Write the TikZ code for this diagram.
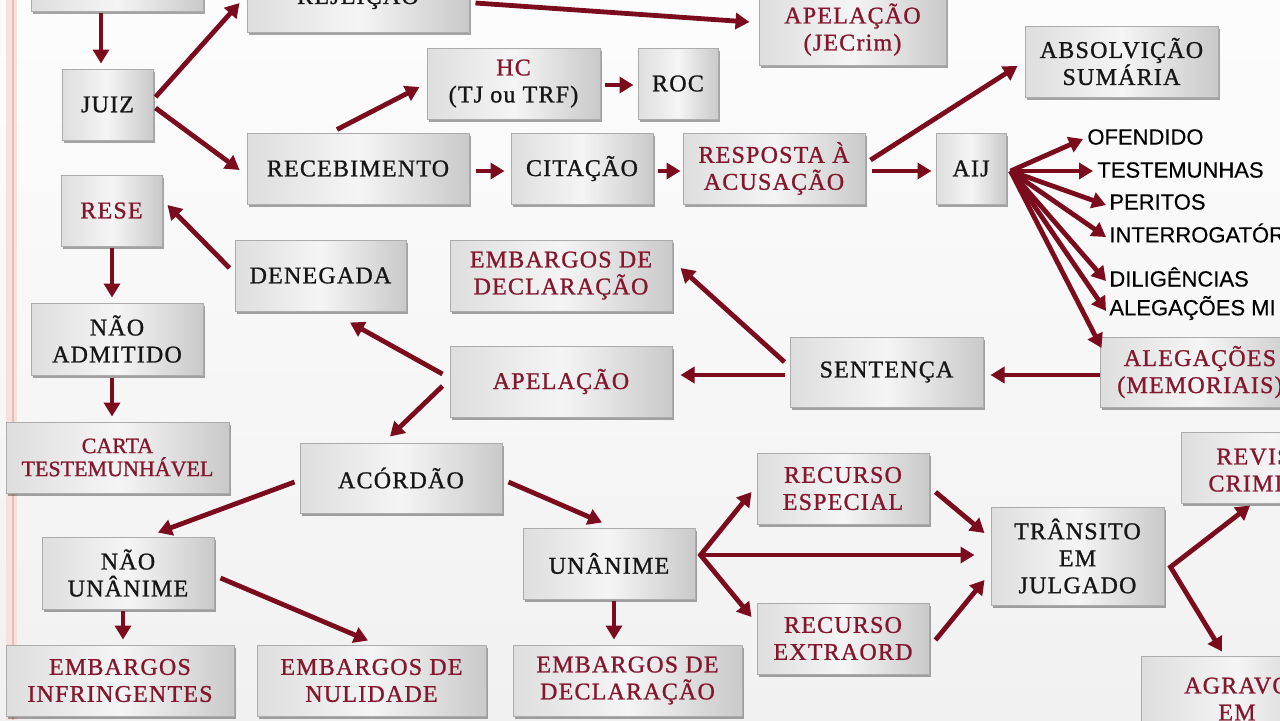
\documentclass[tikz,border=0pt]{standalone}
\usepackage{fontspec}
\setmainfont{Liberation Serif}[LetterSpace=5,FakeBold=1]
\newfontfamily\sansf{Liberation Sans}[FakeBold=0.4]
\newfontfamily\plainserif{Liberation Serif}[FakeBold=1]
\usetikzlibrary{arrows.meta,shadows,calc}
\definecolor{txtred}{RGB}{132,22,46}
\definecolor{txtblk}{RGB}{22,22,22}
\definecolor{arrred}{RGB}{122,12,30}
\definecolor{pinkband}{RGB}{246,226,220}
\definecolor{pinkline}{RGB}{234,190,178}
\begin{document}
\begin{tikzpicture}[x=0.5pt,y=-0.5pt,
  box/.style={rectangle, draw=gray!65, line width=0.5pt,
    left color=gray!26, right color=gray!42, middle color=gray!8,
    drop shadow={shadow xshift=1pt, shadow yshift=-1.3pt, opacity=0.35, fill=black},
    align=center, inner sep=0pt, text=txtblk,
    font=\fontsize{12}{13.5}\selectfont},
  rbox/.style={box, text=txtred},
  rtext/.style={align=center, inner sep=0pt, text=txtred, font=\fontsize{12}{13.5}\selectfont},
  sz/.style 2 args={minimum width=#1*0.5pt, minimum height=#2*0.5pt},
  item/.style={anchor=west, inner sep=0pt, text=black, font=\sansf\fontsize{11}{13}\selectfont},
  arr/.style={draw=arrred, line width=2.4pt, -{Triangle[length=7pt,width=8pt]}},
  arr2/.style={draw=arrred, line width=2.4pt, {Triangle[length=7pt,width=8pt]}-{Triangle[length=7pt,width=8pt]}}
]
\useasboundingbox (0,0) rectangle (1280,720);
\fill[top color=gray!2, bottom color=gray!11] (0,0) rectangle (1280,720);
\fill[pinkband] (6,0) rectangle (17,720);
\draw[pinkline, line width=1pt] (13,0) -- (13,720);

% boxes
\node[box,sz={172}{51}] (top) at (117,-14.5) {};
\node[box,sz={222}{72}] (rej) at (358,-3.5) {REJEIÇÃO};
\node[rbox,sz={187}{71}] (jec) at (852.5,29.5) {APELAÇÃO\\(JECrim)};
\node[box,sz={173}{71}] (hc) at (513.5,83.5) {\textcolor{txtred}{HC}\\(TJ ou TRF)};
\node[box,sz={80}{71}] (roc) at (678,83.5) {ROC};
\node[box,sz={193}{71}] (abs) at (1121.5,61.5) {ABSOLVIÇÃO\\SUMÁRIA};
\node[box,sz={91}{71}] (juiz) at (107.5,104.5) {JUIZ};
\node[box,sz={222}{71}] (rec) at (358,168.5) {RECEBIMENTO};
\node[box,sz={142}{71}] (cit) at (582,168.5) {CITAÇÃO};
\node[rbox,sz={182}{71}] (resp) at (774,168.5) {RESPOSTA À\\ACUSAÇÃO};
\node[box,sz={70}{71}] (aij) at (971,168.5) {AIJ};
\node[rbox,sz={101}{71}] (rese) at (111.5,210.5) {RESE};
\node[box,sz={171}{71}] (den) at (320.5,275.5) {DENEGADA};
\node[rbox,sz={222}{71}] (emb1) at (561,275.5) {EMBARGOS DE\\DECLARAÇÃO};
\node[box,sz={172}{72}] (nadm) at (117,339) {NÃO\\ADMITIDO};
\node[rbox,sz={222}{71}] (apel) at (561,381.5) {APELAÇÃO};
\node[box,sz={193}{70}] (sent) at (886.5,372) {SENTENÇA};
\node[rbox,sz={200}{70}] (aleg) at (1200,372) {ALEGAÇÕES\\(MEMORIAIS)};
\node[rbox,sz={223}{71},font=\plainserif\fontsize{11}{11.5}\selectfont] (carta) at (117.5,457.5) {CARTA\\TESTEMUNHÁVEL};
\node[box,sz={202}{70}] (acor) at (401,478) {ACÓRDÃO};
\node[rbox,sz={182}{71}] (rev) at (1272,468) {REVISÃO\\CRIMINAL};
\node[rbox,sz={172}{71}] (resE) at (843,488.5) {RECURSO\\ESPECIAL};
\node[box,sz={173}{98}] (trans) at (1077.5,556) {TRÂNSITO\\EM\\JULGADO};
\node[box,sz={172}{72}] (nun) at (128,573) {NÃO\\UNÂNIME};
\node[box,sz={172}{71}] (un) at (609,563.5) {UNÂNIME};
\node[rbox,sz={172}{71}] (rext) at (843,638.5) {RECURSO\\EXTRAORD};
\node[rbox,sz={228}{71}] (einf) at (120,680.5) {EMBARGOS\\INFRINGENTES};
\node[rbox,sz={229}{71}] (enul) at (371.5,680.5) {EMBARGOS DE\\NULIDADE};
\node[rbox,sz={229}{71}] (edec) at (627.5,680.5) {EMBARGOS DE\\DECLARAÇÃO};
\node[box,sz={192}{103}] (agr) at (1237,708) {};
\node[rtext] (agrt) at (1237,699) {AGRAVO\\EM};

% sans labels
\node[item] (ofe) at (1087,137) {OFENDIDO};
\node[item] (tes) at (1097,170) {TESTEMUNHAS};
\node[item] (per) at (1109,202) {PERITOS};
\node[item] (int) at (1109,233) {INTERROGATÓRIO};
\node[item] (dil) at (1109,277) {DILIGÊNCIAS};
\node[item] (alm) at (1109,308) {ALEGAÇÕES MI};

% arrows
\draw[arr] ($(top.south)+(-16,1)$) -- ($(juiz.north)+(-6.5,-5)$);
\draw[arr] ($(juiz.east)+(2,-7.5)$) -- ($(rej.west)+(-7,6.5)$);
\draw[arr] ($(juiz.east)+(2,3.5)$) -- ($(rec.west)+(-7,1.5)$);
\draw[arr] ($(rej.east)+(6,6.5)$) -- ($(jec.west)+(-9,-7.5)$);
\draw[arr] ($(rec.north)+(-21,-3)$) -- ($(hc.west)+(-7,3.5)$);
\draw[arr] ($(hc.east)+(4,1.5)$) -- ($(roc.west)+(-4,1.5)$);
\draw[arr] ($(rec.east)+(6,2.5)$) -- ($(cit.west)+(-6,2.5)$);
\draw[arr] ($(cit.east)+(4,2.5)$) -- ($(resp.west)+(-2,2.5)$);
\draw[arr] ($(resp.east)+(5,-8.5)$) -- ($(abs.west)+(-7,4.5)$);
\draw[arr] ($(resp.east)+(6,2.5)$) -- ($(aij.west)+(-4,2.5)$);
\coordinate (fan) at ($(aij.east)+(4,2.5)$);
\draw[arr] (fan) -- ($(ofe.west)+(-4,2)$);
\draw[arr] (fan) -- ($(tes.west)+(-4,1)$);
\draw[arr] (fan) -- ($(per.west)+(-3,3)$);
\draw[arr] (fan) -- ($(int.west)+(-3,4)$);
\draw[arr] (fan) -- ($(dil.west)+(-3,4)$);
\draw[arr] (fan) -- ($(alm.west)+(-3,3)$);
\draw[arr] (fan) -- ($(aleg.west)+(2,-24)$);
\draw[arr] ($(aleg.west)+(0,3)$) -- ($(sent.east)+(7,3)$);
\draw[arr] ($(sent.west)+(-5,-10)$) -- ($(emb1.east)+(8,-7.5)$);
\draw[arr] ($(sent.west)+(-5,3)$) -- ($(apel.east)+(8,-6.5)$);
\draw[arr] ($(apel.west)+(-7,-7.5)$) -- ($(den.south)+(29.5,11)$);
\draw[arr] ($(apel.west)+(-7,4.5)$) -- ($(acor.north)+(-11,-6)$);
\draw[arr] ($(den.west)+(-5,-7.5)$) -- ($(rese.east)+(5,-5.5)$);
\draw[arr] ($(rese.south)+(0.5,1)$) -- ($(nadm.north)+(-5,-5)$);
\draw[arr] ($(nadm.south)+(-5,2)$) -- ($(carta.north)+(-5.5,-5)$);
\draw[arr] ($(acor.west)+(-5,4)$) -- ($(nun.north)+(30,-4)$);
\draw[arr] ($(acor.east)+(6,4)$) -- ($(un.north)+(-7,-5)$);
\draw[arr] ($(nun.south)+(-5,1)$) -- ($(einf.north)+(3,-5)$);
\draw[arr] ($(nun.east)+(6,5)$) -- ($(enul.north)+(-3.5,-4)$);
\draw[arr] ($(un.south)+(5,1)$) -- ($(edec.north)+(-13.5,-5)$);
\coordinate (ufan) at ($(un.east)+(5,-8.5)$);
\draw[arr2] ($(resE.west)+(-5,3.5)$) -- (ufan) -- ($(rext.west)+(-5,-21.5)$);
\draw[arr] (ufan) -- ($(trans.west)+(-16,-1)$);
\draw[arr] ($(resE.east)+(6,3.5)$) -- ($(trans.west)+(-6,-23)$);
\draw[arr] ($(rext.east)+(6,1.5)$) -- ($(trans.west)+(-6,24)$);
\coordinate (tfan) at ($(trans.east)+(6,11)$);
\draw[arr2] ($(rev.south)+(-22,1.5)$) -- (tfan) -- ($(agr.north)+(-15,-4.5)$);
\end{tikzpicture}
\end{document}
